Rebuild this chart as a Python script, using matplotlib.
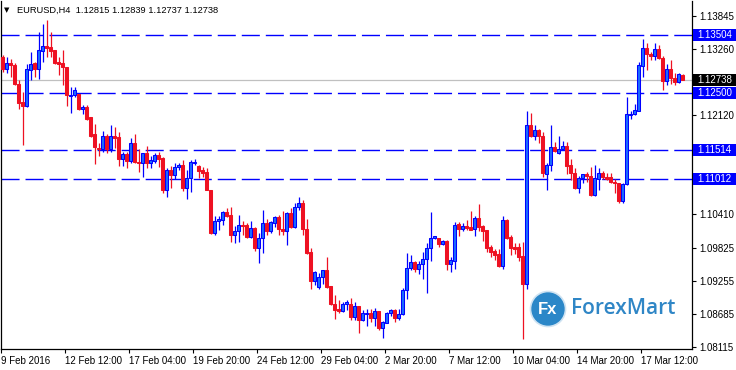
import numpy as np
import matplotlib
matplotlib.use("Agg")
import matplotlib.pyplot as plt
from matplotlib.transforms import blended_transform_factory
from matplotlib.patches import Circle, Rectangle

# ---------------- data (EURUSD H4) ----------------
opens = [1.1313, 1.1293, 1.1303, 1.1299, 1.1266, 1.1235, 1.1228, 1.1290, 1.1303, 1.1292,
         1.1323, 1.1332, 1.1330, 1.1325, 1.1304, 1.1303, 1.1296, 1.1245, 1.1247, 1.1249,
         1.1223, 1.1226, 1.1209, 1.1180, 1.1156, 1.1153, 1.1176, 1.1153, 1.1176, 1.1175,
         1.1137, 1.1145, 1.1133, 1.1164, 1.1131, 1.1130, 1.1146, 1.1129, 1.1133, 1.1143,
         1.1138, 1.1083, 1.1117, 1.1108, 1.1122, 1.1126, 1.1086, 1.1103, 1.1130, 1.1125,
         1.1117, 1.1114, 1.1083, 1.1008, 1.1029, 1.1031, 1.1044, 1.1039, 1.1004, 1.1011,
         1.1022, 1.1022, 1.1001, 1.1017, 1.0983, 1.0999, 1.1025, 1.1012, 1.1026, 1.1036,
         1.1015, 1.1011, 1.1043, 1.1018, 1.1053, 1.1061, 1.1016, 1.0975, 1.0926, 1.0914,
         1.0932, 1.0944, 1.0916, 1.0886, 1.0877, 1.0874, 1.0885, 1.0886, 1.0863, 1.0882,
         1.0858, 1.0868, 1.0870, 1.0862, 1.0873, 1.0844, 1.0853, 1.0869, 1.0875, 1.0861,
         1.0868, 1.0909, 1.0947, 1.0958, 1.0946, 1.0954, 1.0964, 1.0982, 1.0999, 1.0999,
         1.0989, 1.0994, 1.0955, 1.0960, 1.1024, 1.1015, 1.1020, 1.1019, 1.1015, 1.1034,
         1.1020, 1.1013, 1.0984, 1.0977, 1.0972, 1.0951, 1.1031, 1.1001, 1.0984, 1.0984,
         1.0968, 1.0920, 1.1195, 1.1177, 1.1187, 1.1177, 1.1110, 1.1126, 1.1157, 1.1147,
         1.1154, 1.1159, 1.1126, 1.1112, 1.1086, 1.1104, 1.1110, 1.1107, 1.1074, 1.1102,
         1.1112, 1.1105, 1.1105, 1.1096, 1.1095, 1.1064, 1.1093, 1.1213, 1.1214, 1.1219,
         1.1298, 1.1328, 1.1318, 1.1315, 1.1327, 1.1311, 1.1272, 1.1292, 1.1276, 1.1270,
         1.12815]
highs = [1.1316, 1.1313, 1.1310, 1.1303, 1.1273, 1.1252, 1.1301, 1.1322, 1.1304, 1.1356,
         1.1370, 1.1377, 1.1356, 1.1325, 1.1313, 1.1325, 1.1296, 1.1261, 1.1261, 1.1249,
         1.1230, 1.1230, 1.1209, 1.1197, 1.1164, 1.1185, 1.1180, 1.1195, 1.1191, 1.1184,
         1.1149, 1.1149, 1.1173, 1.1180, 1.1153, 1.1146, 1.1159, 1.1142, 1.1147, 1.1149,
         1.1139, 1.1120, 1.1124, 1.1130, 1.1130, 1.1135, 1.1118, 1.1135, 1.1137, 1.1126,
         1.1123, 1.1120, 1.1083, 1.1037, 1.1037, 1.1046, 1.1051, 1.1053, 1.1020, 1.1039,
         1.1029, 1.1026, 1.1029, 1.1018, 1.1009, 1.1048, 1.1033, 1.1029, 1.1038, 1.1039,
         1.1046, 1.1045, 1.1051, 1.1061, 1.1070, 1.1066, 1.1032, 1.0982, 1.0943, 1.0939,
         1.0945, 1.0966, 1.0916, 1.0901, 1.0893, 1.0889, 1.0892, 1.0896, 1.0888, 1.0882,
         1.0875, 1.0876, 1.0876, 1.0878, 1.0874, 1.0856, 1.0871, 1.0876, 1.0876, 1.0876,
         1.0913, 1.0973, 1.0970, 1.0960, 1.0960, 1.0976, 1.0991, 1.1045, 1.1003, 1.1000,
         1.0996, 1.0996, 1.0967, 1.1027, 1.1027, 1.1026, 1.1030, 1.1046, 1.1038, 1.1058,
         1.1022, 1.1013, 1.0988, 1.0980, 1.0980, 1.1037, 1.1033, 1.1005, 1.0991, 1.0991,
         1.0992, 1.1219, 1.1216, 1.1195, 1.1188, 1.1184, 1.1129, 1.1195, 1.1166, 1.1177,
         1.1167, 1.1166, 1.1136, 1.1120, 1.1107, 1.1110, 1.1114, 1.1123, 1.1126, 1.1120,
         1.1116, 1.1113, 1.1112, 1.1101, 1.1095, 1.1094, 1.1244, 1.1220, 1.1232, 1.1304,
         1.1344, 1.1338, 1.1322, 1.1337, 1.1333, 1.1315, 1.1301, 1.1308, 1.1285, 1.1286,
         1.12839]
lows = [1.1287, 1.1285, 1.1279, 1.1264, 1.1223, 1.1161, 1.1226, 1.1273, 1.1278, 1.1275,
        1.1304, 1.1313, 1.1313, 1.1301, 1.1282, 1.1264, 1.1228, 1.1216, 1.1244, 1.1221,
        1.1214, 1.1204, 1.1175, 1.1128, 1.1142, 1.1149, 1.1146, 1.1149, 1.1155, 1.1125,
        1.1125, 1.1120, 1.1129, 1.1129, 1.1114, 1.1106, 1.1120, 1.1120, 1.1129, 1.1123,
        1.1078, 1.1071, 1.1087, 1.1101, 1.1117, 1.1081, 1.1068, 1.1080, 1.1126, 1.1104,
        1.1105, 1.1082, 1.1007, 1.1004, 1.1014, 1.1022, 1.1036, 1.0992, 1.0991, 1.0993,
        1.1005, 1.1000, 1.0999, 1.0978, 1.0957, 1.0974, 1.1005, 1.1008, 1.1018, 1.1005,
        1.1005, 1.0988, 1.1017, 1.1017, 1.1048, 1.1005, 1.0972, 1.0911, 1.0918, 1.0911,
        1.0920, 1.0913, 1.0884, 1.0859, 1.0869, 1.0872, 1.0875, 1.0858, 1.0858, 1.0835,
        1.0856, 1.0847, 1.0855, 1.0847, 1.0840, 1.0827, 1.0852, 1.0865, 1.0855, 1.0857,
        1.0867, 1.0894, 1.0944, 1.0941, 1.0937, 1.0928, 1.0905, 1.0959, 1.0998, 1.0984,
        1.0987, 1.0944, 1.0941, 1.0946, 1.1003, 1.1012, 1.1014, 1.1013, 1.1003, 1.1012,
        1.0995, 1.0975, 1.0967, 1.0962, 1.0950, 1.0946, 1.0998, 1.0971, 1.0972, 1.0960,
        1.0825, 1.0911, 1.1175, 1.1170, 1.1164, 1.1106, 1.1082, 1.1116, 1.1149, 1.1145,
        1.1152, 1.1111, 1.1100, 1.1084, 1.1077, 1.1094, 1.1097, 1.1073, 1.1073, 1.1083,
        1.1101, 1.1100, 1.1094, 1.1078, 1.1060, 1.1060, 1.1091, 1.1205, 1.1213, 1.1219,
        1.1279, 1.1290, 1.1308, 1.1308, 1.1310, 1.1256, 1.1264, 1.1266, 1.1264, 1.1268,
        1.12737]
closes = [1.1293, 1.1303, 1.1299, 1.1266, 1.1233, 1.1228, 1.1292, 1.1301, 1.1292, 1.1325,
          1.1332, 1.1329, 1.1323, 1.1303, 1.1301, 1.1296, 1.1247, 1.1247, 1.1256, 1.1223,
          1.1226, 1.1206, 1.1177, 1.1157, 1.1153, 1.1176, 1.1153, 1.1176, 1.1173, 1.1137,
          1.1145, 1.1133, 1.1164, 1.1131, 1.1130, 1.1146, 1.1129, 1.1135, 1.1143, 1.1137,
          1.1083, 1.1117, 1.1108, 1.1122, 1.1126, 1.1086, 1.1103, 1.1132, 1.1131, 1.1116,
          1.1113, 1.1082, 1.1008, 1.1029, 1.1032, 1.1044, 1.1038, 1.1004, 1.1011, 1.1022,
          1.1020, 1.1001, 1.1017, 1.0983, 1.0999, 1.1025, 1.1012, 1.1027, 1.1036, 1.1015,
          1.1011, 1.1043, 1.1018, 1.1053, 1.1061, 1.1016, 1.0973, 1.0926, 1.0941, 1.0932,
          1.0944, 1.0915, 1.0885, 1.0875, 1.0873, 1.0885, 1.0888, 1.0863, 1.0882, 1.0858,
          1.0869, 1.0869, 1.0862, 1.0873, 1.0844, 1.0854, 1.0869, 1.0875, 1.0861, 1.0868,
          1.0910, 1.0947, 1.0958, 1.0946, 1.0954, 1.0964, 1.0982, 1.0999, 1.1003, 1.0989,
          1.0994, 1.0955, 1.0962, 1.1022, 1.1015, 1.1020, 1.1017, 1.1014, 1.1034, 1.1019,
          1.1012, 1.0982, 1.0975, 1.0970, 1.0951, 1.1031, 1.0999, 1.0982, 1.0980, 1.0967,
          1.0920, 1.1195, 1.1177, 1.1187, 1.1176, 1.1112, 1.1126, 1.1157, 1.1150, 1.1154,
          1.1159, 1.1124, 1.1112, 1.1086, 1.1104, 1.1110, 1.1107, 1.1074, 1.1104, 1.1112,
          1.1105, 1.1102, 1.1096, 1.1095, 1.1064, 1.1093, 1.1214, 1.1214, 1.1221, 1.1299,
          1.1328, 1.1318, 1.1315, 1.1327, 1.1311, 1.1272, 1.1292, 1.1276, 1.1270, 1.1284,
          1.12738]

level_prices = [1.13504, 1.12500, 1.11514, 1.11012]
current_price = 1.12738
ytick_values = [1.13845, 1.13260, 1.12120, 1.10410, 1.09825, 1.09255, 1.08685, 1.08115]
xtick_bars = [0, 16, 32, 48, 64, 80, 96, 112, 128, 144, 160]
xtick_labels = ["9 Feb 2016", "12 Feb 12:00", "17 Feb 04:00", "19 Feb 20:00", "24 Feb 12:00",
                "29 Feb 04:00", "2 Mar 20:00", "7 Mar 12:00", "10 Mar 04:00", "14 Mar 20:00",
                "17 Mar 12:00"]
title_text = "EURUSD,H4  1.12815 1.12839 1.12737 1.12738"

# ---------------- figure ----------------
W, H = 736, 370
plt.rcParams['font.family'] = ['Liberation Sans', 'DejaVu Sans']
fig = plt.figure(figsize=(W / 100, H / 100), dpi=100)
fig.patch.set_facecolor('white')
ax = fig.add_axes([1 / W, 1 - 349 / H, 691 / W, 348 / H])
ax.set_facecolor('white')
ax.set_xlim(-0.375, 172.375)
ax.set_ylim(1.08075, 1.14099)

o = np.array(opens); h = np.array(highs); l = np.array(lows); c = np.array(closes)
x = np.arange(len(o))
bull = c >= o
BLUE_EDGE = '#0000ff'
BLUE_FILL = '#1a6cff'
RED = '#ee1122'

wick_colors = np.where(bull, BLUE_EDGE, RED)
ax.vlines(x, l, h, colors=wick_colors, linewidth=0.9, zorder=3)
body_bottom = np.minimum(o, c)
body_h = np.maximum(np.abs(c - o), 0.00005)
ax.bar(x[bull], body_h[bull], bottom=body_bottom[bull], width=0.68,
       color=BLUE_FILL, edgecolor=BLUE_EDGE, linewidth=0.75, zorder=4)
ax.bar(x[~bull], body_h[~bull], bottom=body_bottom[~bull], width=0.68,
       color=RED, edgecolor=RED, linewidth=0.75, zorder=4)

# horizontal levels
ax.axhline(current_price, color='#c0c0c0', linewidth=0.9, zorder=1)
for lv in level_prices:
    ax.axhline(lv, color='#0000ff', linewidth=1.0, linestyle=(0, (13, 4.3)), zorder=2)

# spines
for s in ['left', 'right', 'bottom']:
    ax.spines[s].set_color('black')
    ax.spines[s].set_linewidth(0.9)
ax.spines['top'].set_visible(False)

# y axis on the right
ax.yaxis.tick_right()
ax.set_yticks(ytick_values)
ax.set_yticklabels([f"{v:.5f}" for v in ytick_values])
ax.tick_params(axis='y', direction='out', length=3, width=0.8, pad=2, labelsize=7, colors='black')

# x axis
ax.set_xticks([b - 0.4 for b in xtick_bars])
ax.set_xticklabels(xtick_labels)
ax.tick_params(axis='x', direction='out', length=3, width=0.8, pad=2, labelsize=7, colors='black')
for lab in ax.get_xticklabels():
    lab.set_horizontalalignment('left')

# price boxes on the right scale
trans = blended_transform_factory(ax.transAxes, ax.transData)
px_price = (1.14099 - 1.08075) / 348.0
box_h = 12 * px_price
box_x0 = 1 + 1 / 691
box_w = 43 / 691
for lv in level_prices + [current_price]:
    fc = 'black' if lv == current_price else '#0000ff'
    ax.add_patch(Rectangle((box_x0, lv - box_h / 2), box_w, box_h, transform=trans,
                           facecolor=fc, edgecolor='none', clip_on=False, zorder=10))
    ax.text(1 + 5 / 691, lv, f"{lv:.5f}", transform=trans, ha='left', va='center',
            fontsize=7, color='white', clip_on=False, zorder=11)

# title
fig.text(4 / W, 1 - 10 / H, "\u25BC", fontsize=5, family='DejaVu Sans', va='center', ha='left')
fig.text(17 / W, 1 - 10 / H, title_text, fontsize=6.7, va='center', ha='left')

# watermark logo
logo = Circle((548 / 100, (H - 309) / 100), 0.175, transform=fig.dpi_scale_trans,
              facecolor='#2b87c8', edgecolor='#cfe3f2', linewidth=1.2, zorder=20)
fig.add_artist(logo)
fig.text(548 / W, 1 - 309 / H, "Fx", fontsize=12, color='white', weight='bold',
         ha='center', va='center', zorder=21)
fig.text(571 / W, 1 - 309 / H, "ForexMart", fontsize=15, color='#2f86c6', weight='semibold',
         ha='left', va='center', family=['Open Sans', 'DejaVu Sans'], zorder=21)

fig.savefig("out.png", dpi=100, facecolor='white')
